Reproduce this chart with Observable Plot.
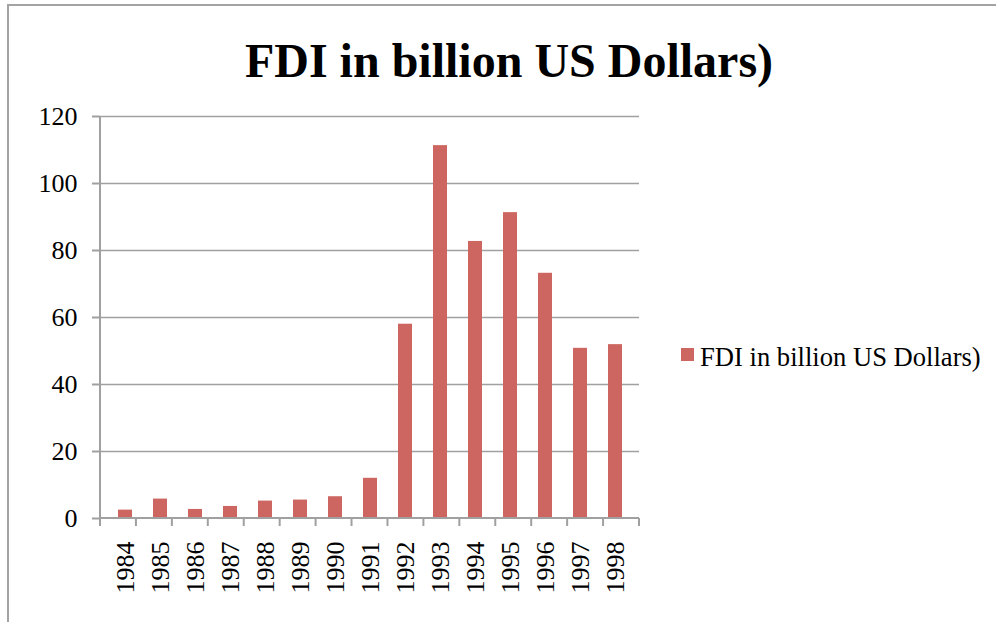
<!DOCTYPE html>
<html>
<head>
<meta charset="utf-8">
<script src="https://cdn.jsdelivr.net/npm/d3@7"></script>
<script src="https://cdn.jsdelivr.net/npm/@observablehq/plot@0.6"></script>
<style>
  html, body { margin: 0; padding: 0; background: white; }
  #wrap { position: relative; width: 996px; height: 622px; overflow: hidden; font-family: "Liberation Serif", "Times New Roman", serif; }
  #border { position: absolute; left: 7px; top: 4px; width: 1100px; height: 800px; border-left: 2px solid #a3a3a3; border-top: 2px solid #a3a3a3; pointer-events: none; }
  #title { position: absolute; left: 509px; top: 37px; transform: translateX(-50%); white-space: nowrap; font-size: 48px; font-weight: bold; line-height: 1; color: #000; }
  #legend { position: absolute; left: 681px; top: 344px; white-space: nowrap; font-size: 26.6px; line-height: 1; color: #000; }
  #legend .sw { position: absolute; left: 0; top: 4px; width: 13px; height: 13px; }
  #legend .lb { position: absolute; left: 19px; top: 0; }
  #chart { position: absolute; left: 0; top: 0; }
</style>
</head>
<body>
<div id="wrap">
  <div id="chart"></div>
  <div id="border"></div>
  <div id="title"></div>
  <div id="legend"><div class="sw"></div><div class="lb"></div></div>
</div>
<script>
const titleText = "FDI in billion US Dollars)";
const seriesName = "FDI in billion US Dollars)";
const years = ["1984","1985","1986","1987","1988","1989","1990","1991","1992","1993","1994","1995","1996","1997","1998"];
const fdi = [2.5, 5.8, 2.7, 3.6, 5.2, 5.5, 6.5, 12.0, 58.0, 111.3, 82.7, 91.3, 73.2, 50.8, 51.9];
const yTicks = [0, 20, 40, 60, 80, 100, 120];

const barColor = "#cd6660";
const axisColor = "#a0a0a0";

const data = years.map((y, i) => ({year: y, value: fdi[i]}));

document.getElementById("title").textContent = titleText;
document.querySelector("#legend .lb").textContent = seriesName;
document.querySelector("#legend .sw").style.background = barColor;

// Axis lines and category-boundary ticks (drawn from plot dimensions)
const axisFrame = (index, scales, values, dims) => {
  const g = d3.create("svg:g");
  const x0 = dims.marginLeft, x1 = dims.width - dims.marginRight;
  const yb = dims.height - dims.marginBottom, yt = dims.marginTop;
  const n = years.length;
  g.append("line").attr("x1", x0).attr("x2", x0).attr("y1", yt).attr("y2", yb)
    .attr("stroke", axisColor).attr("stroke-width", 2);
  g.append("line").attr("x1", x0).attr("x2", x1).attr("y1", yb).attr("y2", yb)
    .attr("stroke", axisColor).attr("stroke-width", 2);
  for (let i = 0; i <= n; i++) {
    const x = x0 + (x1 - x0) * i / n;
    g.append("line").attr("x1", x).attr("x2", x).attr("y1", yb).attr("y2", yb + 8)
      .attr("stroke", axisColor).attr("stroke-width", 2);
  }
  return g.node();
};

const chart = Plot.plot({
  width: 996,
  height: 622,
  marginLeft: 100,
  marginRight: 357,
  marginTop: 116,
  marginBottom: 104,
  style: {background: "transparent", fontFamily: "'Liberation Serif', 'Times New Roman', serif", color: "#000"},
  x: {domain: years, paddingInner: 0.6, paddingOuter: 0.3, label: null},
  y: {domain: [0, 120], ticks: yTicks, label: null},
  marks: [
    Plot.gridY(yTicks.filter(t => t > 0), {stroke: axisColor, strokeOpacity: 1, strokeWidth: 1.5}),
    Plot.barY(data, {x: "year", y: "value", fill: barColor}),
    axisFrame,
    Plot.axisY(yTicks, {tickSize: 8, tickPadding: 15, stroke: axisColor, strokeWidth: 2, fill: "#000", fontSize: 26, label: null}),
    Plot.axisX({tickSize: 0, tickPadding: 23, tickRotate: -90, fill: "#000", fontSize: 26, label: null})
  ]
});
document.getElementById("chart").appendChild(chart);
</script>
</body>
</html>
